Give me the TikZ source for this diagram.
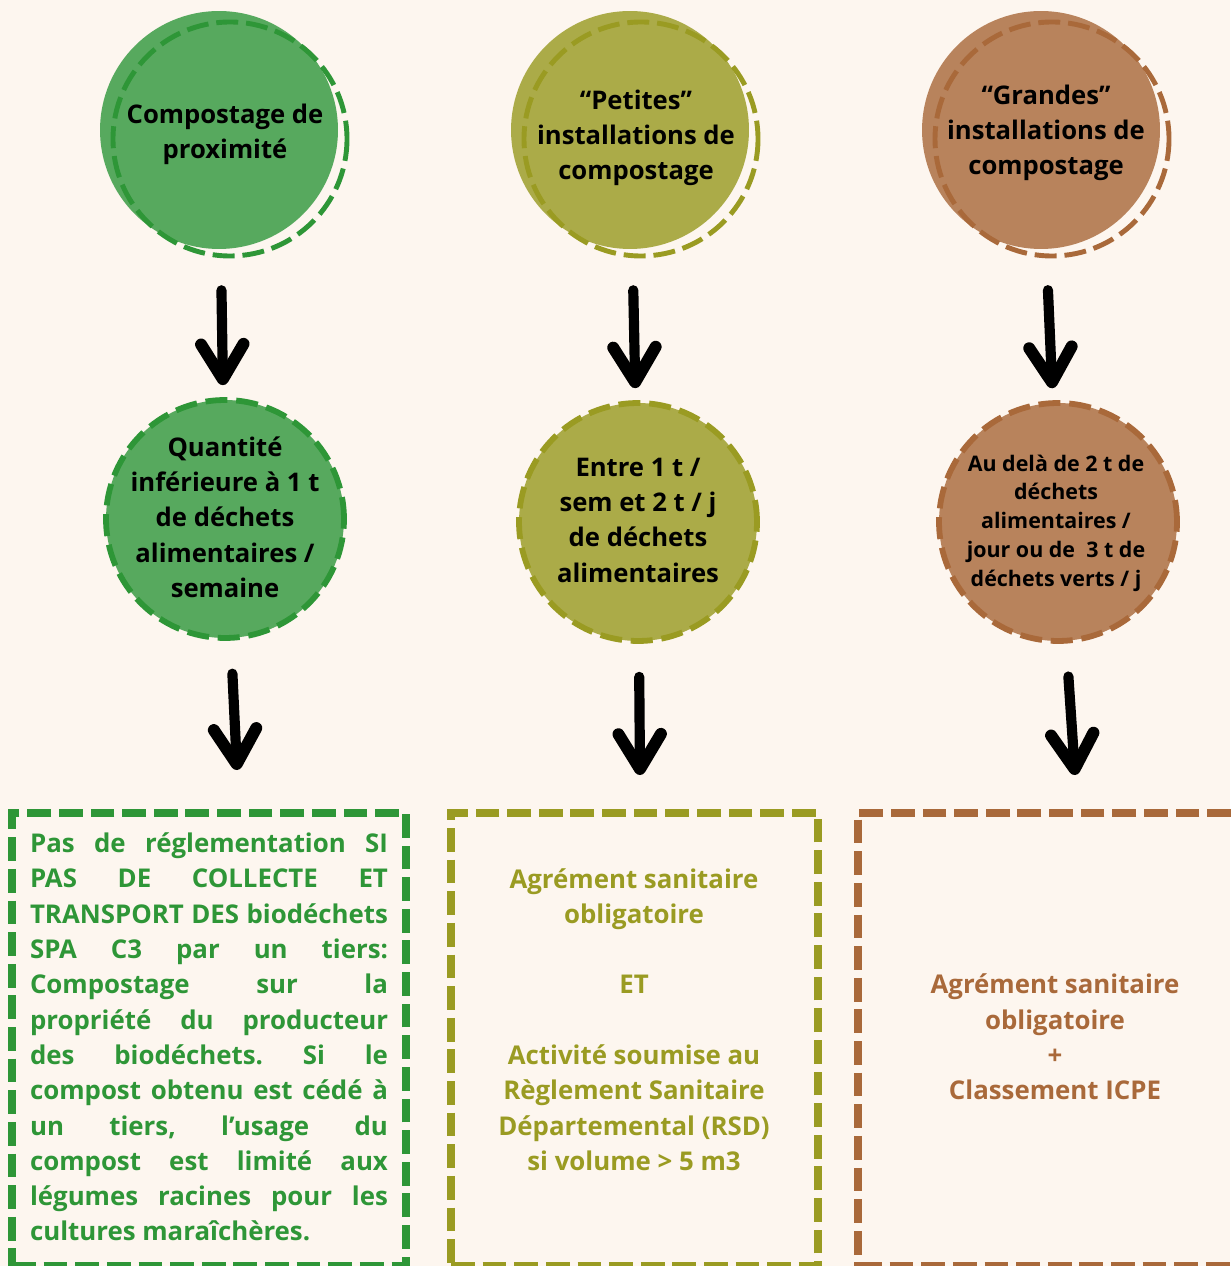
\documentclass[tikz,border=0pt]{standalone}
\usepackage{fontspec}
\setmainfont{Open Sans}
\usetikzlibrary{arrows.meta}
\definecolor{cream}{RGB}{253, 246, 239}
\definecolor{leaf}{RGB}{87, 169, 94}
\definecolor{leafdark}{RGB}{46, 150, 55}
\definecolor{olive}{RGB}{171, 171, 72}
\definecolor{olivedark}{RGB}{154, 155, 34}
\definecolor{clay}{RGB}{184, 131, 92}
\definecolor{claydark}{RGB}{169, 105, 58}
\frenchspacing
\newcommand{\jline}[1]{\makebox[7.16cm][s]{#1}}

\begin{document}
\begin{tikzpicture}[x=0.02cm, y=-0.02cm,
    disc/.style={circle, minimum size=4.76cm, inner sep=0pt},
    ring/.style={line width=2.8pt, dash pattern=on 12.5pt off 4.5pt},
    discline/.style={line width=3.3pt, dash pattern=on 12.5pt off 5pt},
    frame/.style={rectangle, inner sep=0pt, line width=4.5pt, dash pattern=on 13.5pt off 4.5pt},
    disctext/.style={align=center, font=\bfseries\fontsize{14.6}{20.1}\selectfont},
    boxtext/.style={align=center, font=\bfseries\fontsize{14.7}{20.1}\selectfont},
    bigarrow/.style={line width=5.8pt, line cap=round, shorten <=0.82cm, shorten >=0.24cm,
        -{Straight Barb[round, length=0.7cm, width=0.85cm, line width=6.8pt]}}]
    % Background
    \useasboundingbox[fill=cream] (0,0) rectangle (1230,1266);
    % Top row
    \node[disc, fill=leaf]                             (top1) at ( 219, 130) {};
    \draw[ring, leafdark]                                     ( 230, 139) circle[radius=117];
    \node[disc, fill=olive]                            (top2) at ( 630, 130) {};
    \draw[ring, olivedark]                                    ( 641, 139) circle[radius=117];
    \node[disc, fill=clay]                             (top3) at (1041, 130) {};
    \draw[ring, claydark]                                     (1052, 139) circle[radius=117];
    \node[disctext] (top1txt) at ( 225, 134) {Compostage de\\proximité};
    \node[disctext] (top2txt) at ( 636, 138) {“Petites”\\installations de\\compostage};
    \node[disctext] (top3txt) at (1046, 133) {“Grandes”\\installations de\\compostage};
    % Middle row
    \node[disc, fill=leaf,  draw=leafdark,  discline]  (mid1) at ( 225, 519) {};
    \node[disc, fill=olive, draw=olivedark, discline]  (mid2) at ( 638, 522) {};
    \node[disc, fill=clay,  draw=claydark,  discline]  (mid3) at (1058, 522) {};
    \node[disctext] (mid1txt) at ( 225, 517) {Quantité\\inférieure à 1 t\\de déchets\\alimentaires /\\semaine};
    \node[disctext] (mid2txt) at ( 638, 520) {Entre 1 t /\\sem et 2 t / j\\de déchets\\alimentaires};
    \node[disctext, font=\bfseries\fontsize{12.2}{16.4}\selectfont]
                    (mid3txt) at (1056, 523) {Au delà de 2 t de\\déchets\\alimentaires /\\jour ou de~ 3 t de\\déchets verts / j};
    % Bottom boxes
    \node[frame, draw=leafdark,  minimum width=7.88cm, minimum height=9.06cm] (box1) at ( 209, 1039.5) {};
    \node[frame, draw=olivedark, minimum width=7.34cm, minimum height=9.06cm] (box2) at ( 634.5, 1039.5) {};
    \node[frame, draw=claydark,  minimum width=7.74cm, minimum height=9.06cm] (box3) at (1051.5, 1039.5) {};
    \node[boxtext, text=leafdark, text width=7.16cm, align=justify] (box1txt) at (209, 1037) {%
        \jline{Pas de réglementation SI}\\
        \jline{PAS DE COLLECTE ET}\\
        \jline{TRANSPORT DES biodéchets}\\
        \jline{SPA C3 par un tiers:}\\
        \jline{Compostage sur la}\\
        \jline{propriété du producteur}\\
        \jline{des biodéchets. Si le}\\
        \jline{compost obtenu est cédé à}\\
        \jline{un tiers, l’usage du}\\
        \jline{compost est limité aux}\\
        \jline{légumes racines pour les}\\
        cultures maraîchères.};
    \node[boxtext, text=olivedark] (box2txt) at (634, 1019.5)
        {Agrément sanitaire\\obligatoire\\[20.1pt]ET\\[20.1pt]Activité soumise au\\Règlement Sanitaire\\Départemental (RSD)\\si volume > 5 m3};
    \node[boxtext, text=claydark] (box3txt) at (1055, 1037)
        {Agrément sanitaire\\obligatoire\\+\\Classement ICPE};
    % Arrows
    \coordinate (tip1) at ( 237, 770);
    \coordinate (tip2) at ( 640, 775);
    \coordinate (tip3) at (1075, 775);
    \draw[bigarrow] (top1) -- (mid1);
    \draw[bigarrow] (top2) -- (mid2);
    \draw[bigarrow] (top3) -- (mid3);
    \draw[bigarrow, shorten <=0.66cm, shorten >=0pt] (mid1) -- (tip1);
    \draw[bigarrow, shorten <=0.66cm, shorten >=0pt] (mid2) -- (tip2);
    \draw[bigarrow, shorten <=0.66cm, shorten >=0pt] (mid3) -- (tip3);
\end{tikzpicture}
\end{document}
